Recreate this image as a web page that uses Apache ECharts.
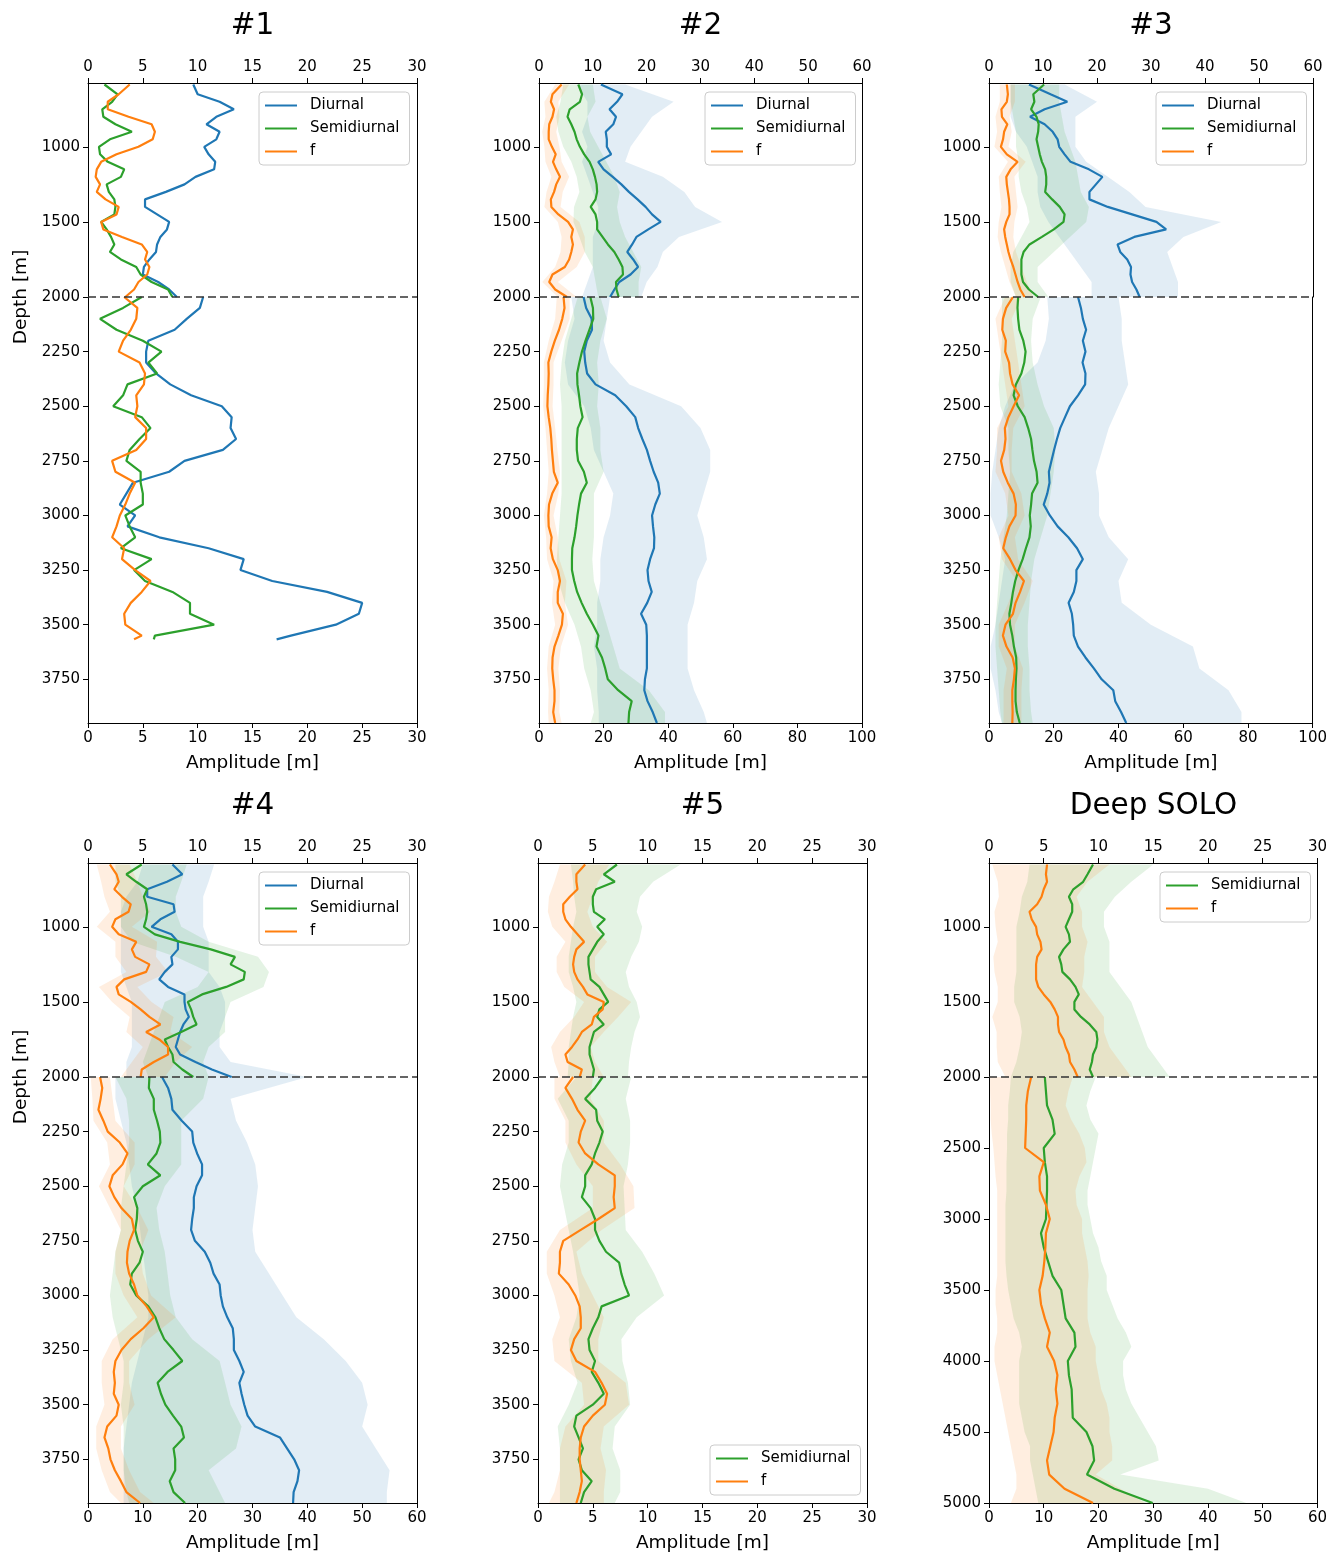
<!DOCTYPE html>
<html><head><meta charset="utf-8">
<script src="https://cdn.jsdelivr.net/npm/echarts@6/dist/echarts.min.js"></script>
<style>html,body{margin:0;padding:0;background:#fff}#chart{width:1330px;height:1554px}</style>
</head><body><div id="chart"></div>
<script>
// ---------- depth grids & tick labels ----------
const depthUp = [585,650,700,750,800,850,900,950,1000,1050,1100,1150,1200,1250,1300,1350,1400,1450,1500,1550,1600,1650,1700,1750,1800,1850,1900,1950,2000];
const bandDepthUp = [585,700,800,900,1000,1100,1200,1300,1400,1500,1600,1700,1800,1900,2000];
const depthLo = [2000,2050,2100,2150,2200,2250,2300,2350,2400,2450,2500,2550,2600,2650,2700,2750,2800,2850,2900,2950,3000,3050,3100,3150,3200,3250,3300,3350,3400,3450,3500,3550,3600,3650,3700,3750,3800,3850,3900,3950];
const depthLoP1 = [2000,2050,2100,2150,2200,2250,2300,2350,2400,2450,2500,2550,2600,2650,2700,2750,2800,2850,2900,2950,3000,3050,3100,3150,3200,3250,3300,3350,3400,3450,3500,3550,3567];
const bandDepthLo = [2000,2100,2200,2300,2400,2500,2600,2700,2800,2900,3000,3100,3200,3300,3400,3500,3600,3700,3800,3900,3950];
const depthDeepLo = [2000,2100,2200,2300,2400,2500,2600,2700,2800,2900,3000,3100,3200,3300,3400,3500,3600,3700,3800,3900,4000,4100,4200,4300,4400,4500,4600,4700,4800,4900,5000];
const yTicksUp = [1000,1500];
const yTicksLo = [2000,2250,2500,2750,3000,3250,3500,3750];
const yTicksDeepLo = [2000,2500,3000,3500,4000,4500,5000];
const titles = ['#1','#2','#3','#4','#5','Deep SOLO'];

// ---------- #1 ----------
const p1UpDiurnal = [9.6,10.0,12.0,13.3,11.7,10.8,12.0,11.7,10.6,11.0,11.6,11.5,9.8,8.8,7.1,5.2,5.2,6.3,7.4,7.2,6.6,6.3,6.2,5.6,5.1,5.0,6.4,7.4,8.1];
const p1UpSemi = [1.5,2.7,2.2,1.3,1.4,2.5,4.0,2.0,1.0,1.1,1.8,3.3,3.0,1.7,1.9,2.4,2.5,2.4,1.2,1.7,2.1,2.4,2.0,3.0,4.4,4.8,5.8,7.3,7.7];
const p1UpF = [3.8,2.8,1.8,1.8,3.7,5.8,6.1,5.9,4.6,2.6,1.2,0.8,0.7,1.1,0.8,1.6,2.8,2.6,1.2,1.4,3.1,4.9,5.4,5.2,5.6,5.4,4.6,4.2,3.4];
const p1LoDiurnal = [10.5,10.2,9.0,7.9,5.5,5.3,5.3,6.2,7.5,9.4,12.2,13.1,13.0,13.5,12.3,8.8,7.4,4.1,3.5,2.9,4.3,3.6,6.5,11.0,14.2,13.9,16.8,21.8,25.0,24.7,22.6,18.5,17.2];
const p1LoSemi = [4.9,3.2,1.1,2.6,5.0,6.7,5.5,6.3,3.6,3.2,2.3,4.9,5.7,4.7,3.8,3.5,4.8,4.8,5.0,5.0,3.4,3.8,4.3,3.0,5.8,4.2,5.2,7.7,9.3,9.3,11.5,6.1,6.0];
const p1LoF = [3.3,4.5,4.4,3.9,3.2,2.8,4.7,5.2,5.1,4.4,4.5,4.3,5.3,5.3,4.4,2.2,2.5,4.3,3.8,3.4,2.9,2.6,2.2,3.3,3.1,4.3,5.7,4.9,3.9,3.3,3.4,4.9,4.2];

// ---------- #2 ----------
const p2UpDiurnal = [11.5,15.5,14.5,13.1,14.3,13.8,12.4,12.6,12.6,13.4,11.0,12.0,13.7,15.3,16.7,18.3,19.8,21.0,22.6,20.3,18.1,17.3,16.4,17.5,18.4,17.0,14.9,14.0,13.2];
const p2UpSemi = [7.3,8.0,7.6,5.7,5.3,6.0,6.6,7.0,7.6,8.4,9.4,10.0,10.4,10.7,10.8,10.5,9.6,10.5,10.8,10.8,11.8,12.8,14.0,14.8,15.5,15.6,14.3,14.4,14.8];
const p2UpF = [4.2,2.5,2.2,2.8,2.5,1.9,1.8,1.8,2.4,3.1,2.6,3.2,3.9,3.2,2.8,2.2,2.3,3.6,5.4,6.3,6.0,6.3,6.0,5.6,4.8,2.5,1.9,3.0,5.2];
const p2UpDiurnalLo = [7,9,9,8,9,8,9,10,11,11,10,10,10,9,8];
const p2UpDiurnalHi = [16,25,21,19,17,16,23,27,29,34,26,23,22,20,19];
const p2UpSemiLo = [4.5,4.0,3.2,3.6,4.5,6.0,7.0,7.5,6.5,6.4,7.5,8.5,10.0,10.5,11.0];
const p2UpSemiHi = [10.0,10.5,9.0,9.5,11.0,12.5,14.0,15.0,14.5,15.0,16.0,17.5,19.0,18.5,18.5];
const p2UpFLo = [3.0,1.0,1.2,0.6,1.0,1.2,2.3,1.4,1.0,3.5,4.2,4.0,3.0,0.6,3.5];
const p2UpFHi = [5.6,3.6,3.8,3.2,3.8,4.2,5.6,4.4,4.0,7.5,8.5,8.5,7.0,3.5,7.0];
const p2LoDiurnal = [13.8,14.6,16.3,16.4,14.8,14.0,14.3,14.9,17.5,23.6,27.0,29.8,30.7,32.0,33.4,34.4,35.5,36.9,37.4,36.0,35.0,35.3,35.7,35.6,34.4,33.6,33.9,34.9,33.5,31.6,33.2,33.4,33.4,33.4,33.4,32.8,32.6,33.6,35.2,36.5];
const p2LoSemi = [15.9,16.7,16.8,15.6,14.4,13.3,12.5,11.8,11.9,12.4,12.8,13.5,12.0,11.7,11.7,12.1,13.9,14.8,13.0,12.4,11.9,11.5,11.0,10.3,10.2,10.2,10.9,11.8,13.2,14.8,16.7,18.4,17.8,19.5,20.5,21.3,24.5,28.7,27.9,27.7];
const p2LoF = [7.6,7.9,7.2,6.2,4.9,3.8,2.9,3.0,2.9,2.7,2.6,3.0,3.5,3.8,4.0,4.3,4.6,5.8,4.1,3.1,2.9,3.0,3.9,3.6,4.3,5.8,6.5,5.8,5.8,7.4,7.1,6.0,4.8,4.2,4.1,4.4,4.8,4.8,4.4,5.0];
const p2LoDiurnalLo = [10,11,9,8,9,14,16,17,20,23,22,20,19,19,18,18,17,18,18,18.5,18.5];
const p2LoDiurnalHi = [22,21,20,22,28,44,50,53,53,51,49,51,52,49,48,46,46,46,48,51,52];
const p2LoSemiLo = [12,10,8,7,6.5,7,7,7,7,7,6.5,6,5.5,6,8,11,13,14,16,17,16];
const p2LoSemiHi = [19,21,19,18,18.5,18,19,19,20,17,17,17,16.5,17,19,21,23,25,34,39,39];
const p2LoFLo = [5.5,5.0,3.0,1.5,1.5,1.3,2.0,2.5,3.0,2.5,1.5,2.2,2.5,4.5,4.0,5.0,3.0,2.5,3.0,2.8,3.0];
const p2LoFHi = [9.5,9.5,7.0,4.5,4.5,4.2,5.0,5.7,6.5,6.0,4.5,5.8,6.3,8.5,8.0,9.0,6.8,6.0,6.5,6.3,7.0];

// ---------- #3 ----------
const p3UpDiurnal = [7.4,11.4,14.5,10.3,7.6,10.3,11.8,12.7,13.0,14.0,15.1,18.5,21.0,19.8,18.6,18.6,22.0,26.5,31.0,32.8,26.9,23.8,24.3,25.6,26.3,26.2,26.5,27.3,27.9];
const p3UpSemi = [10.2,8.2,8.4,7.8,8.8,9.2,9.1,8.8,9.1,9.4,9.8,10.4,10.6,10.6,10.4,11.7,13.1,14.0,13.8,12.0,9.8,7.5,6.4,6.0,6.0,6.0,6.3,7.4,9.1];
const p3UpF = [3.3,3.5,3.3,2.3,2.4,3.4,2.8,2.6,2.2,3.3,5.3,4.0,3.2,3.3,3.5,3.7,3.8,3.8,3.2,2.8,3.0,3.3,3.6,4.0,4.5,4.9,5.3,5.8,6.6];
const p3UpDiurnalLo = [4,4,4,5,7,8,9,9,9.5,11,13,15,17,19,19];
const p3UpDiurnalHi = [14,20,16,16,16,18,22,26,29,43,36,33,34,35,35];
const p3UpSemiLo = [4,4,4.5,5,5,5.5,5.5,6,7,7.5,6,4.5,4,4,5];
const p3UpSemiHi = [13,13,13.5,14,15,16,16.5,17,18.5,18,15,12,9,9,11];
const p3UpFLo = [2.0,2.0,1.2,1.5,1.0,3.5,1.8,2.0,2.3,1.8,1.6,2.2,3.0,3.8,5.0];
const p3UpFHi = [4.8,4.8,3.8,4.2,3.6,6.8,4.7,5.0,5.3,4.7,4.5,5.0,6.0,7.0,8.2];
const p3LoDiurnal = [27.5,28.4,29.0,30.0,29.0,29.8,28.9,29.8,29.7,27.5,25.0,23.5,22.0,21.0,20.1,19.3,18.5,18.7,18.0,16.9,18.8,21.2,24.5,27.2,29.0,27.0,27.0,26.2,24.6,25.6,26.0,26.2,27.5,29.8,32.4,34.8,38.4,39.0,40.8,42.4];
const p3LoSemi = [9.0,8.8,9.0,9.4,10.6,11.3,10.9,10.0,8.3,7.6,8.9,11.0,12.1,13.0,13.4,13.9,14.7,15.0,13.3,13.0,12.6,12.9,12.5,11.4,10.4,9.1,8.1,7.4,6.9,6.3,6.5,7.2,7.7,8.4,8.5,8.3,8.2,8.2,8.6,9.5];
const p3LoF = [7.4,5.3,4.3,4.1,5.2,5.0,6.2,6.5,7.3,9.3,7.6,6.0,4.9,5.1,4.7,3.7,4.4,5.8,7.6,8.3,8.2,6.3,5.2,4.4,6.5,8.2,10.8,9.6,8.2,7.4,5.1,4.3,5.4,7.3,8.0,7.7,7.2,7.2,7.3,7.2];
const p3LoDiurnalLo = [18,18.5,17.5,15,8,5,3,2,1,0.5,0.5,3,5,4,3,2,0.5,0.5,2,3,4];
const p3LoDiurnalHi = [40,41,41,42,43,40,37,35,33,34,34,37,43,40,41,50,63,65,74,78,78];
const p3LoSemiLo = [4,4,4,3.5,3,3.5,6,6,6.5,6,5.5,4.5,3.5,3,2.5,2,2,2.5,3,3.5,4];
const p3LoSemiHi = [16,13.5,13,13.5,15,17,20,20.5,20,19,18,16,14,13,12.5,12,12,12.5,12.5,13,13.5];
const p3LoFLo = [5,2,3,4,5,6,2.5,2.5,2,5,6,3,4,8.5,6,3,3,5.5,4.5,4.5,4.5];
const p3LoFHi = [10,7,8,9,10,11,7.5,7,7,10,11,8,9,13.5,11,8,8,10.5,10,10,10];

// ---------- #4 ----------
const p4UpDiurnal = [7.7,8.6,7.2,5.4,5.4,7.8,7.9,6.6,5.8,7.6,8.2,8.2,7.6,7.7,7.0,6.5,7.3,8.8,8.8,8.9,9.2,8.7,8.4,8.2,8.0,8.4,9.8,11.3,13.1];
const p4UpSemi = [4.9,3.5,4.4,5.4,5.1,5.3,5.4,5.3,5.1,6.1,8.4,11.2,13.4,13.0,14.3,14.2,12.6,10.4,9.1,9.4,9.6,9.9,8.5,7.0,7.3,7.7,7.8,8.6,9.6];
const p4UpF = [2.0,2.6,2.8,2.4,3.1,3.9,3.7,2.5,2.2,2.8,4.4,4.0,4.3,5.6,5.3,3.3,2.6,2.8,3.9,4.8,5.6,6.6,5.3,6.5,7.3,7.3,6.0,4.9,4.8];
const p4UpDiurnalLo = [5,4.5,3.5,3,3,3,3,3,3.5,4,4,4,4,3.5,3.5];
const p4UpDiurnalHi = [11.5,11,10.5,10.5,10.5,11,11,11,12,12.5,12.5,12,12,13,20];
const p4UpSemiLo = [2.5,2.5,3,3,3,4,8,11,10,7,6.5,6,5.5,5,5.5];
const p4UpSemiHi = [9,8.5,8,8,8.5,11,15.5,16.5,16,13,12.5,12.5,11,10.5,11];
const p4UpFLo = [0.8,1.2,1.5,2.0,0.8,2.5,2.5,3.5,1.0,2.2,3.8,3.5,5.0,4.0,3.0];
const p4UpFHi = [3.8,4.5,5.0,5.7,4.0,6.3,6.2,7.3,4.5,5.8,7.8,7.5,9.5,8.0,7.0];
const p4LoDiurnal = [13.5,14.6,15.2,15.4,17.1,19.0,19.2,19.9,20.8,20.8,19.8,19.3,19.3,19.0,18.8,19.5,21.3,22.3,22.9,24.0,24.2,24.6,25.4,26.4,26.6,26.6,27.6,28.4,27.6,28.0,28.5,29.1,30.5,35.0,36.3,37.6,38.5,38.2,37.5,37.4];
const p4LoSemi = [11.2,11.1,12.0,12.0,12.6,13.1,13.2,12.5,10.9,13.2,10.0,8.4,9.0,8.9,8.6,9.1,10.0,9.4,8.0,7.7,8.8,11.0,12.3,13.0,13.9,15.6,17.2,14.5,12.7,13.3,14.1,15.5,17.0,17.5,15.6,15.9,15.9,14.9,15.6,17.7];
const p4LoF = [2.2,2.6,2.3,1.9,2.8,3.6,5.8,7.2,6.3,4.5,3.9,4.8,6.1,8.0,8.4,7.6,7.2,7.1,7.5,8.4,9.0,10.7,12.0,10.1,7.8,6.1,5.0,4.7,4.9,4.7,5.6,5.2,3.5,3.0,3.7,4.1,4.9,6.0,7.0,9.5];
const p4LoDiurnalLo = [5,5,6,7,7.5,8,9,9.5,10,10.5,11,11,10,9,8,7.5,7,6.5,6.5,6.5,6.5];
const p4LoDiurnalHi = [40,26,27,29,30.5,31,30.5,30,30.5,33,35.5,38,43,47,50,51,50,52.5,55,54.5,54.5];
const p4LoSemiLo = [5,7,7.5,7.5,7,6.5,6,6,5,4.5,4,4.5,5.5,6.5,6.5,6,6.5,6.5,6.5,7,7.5];
const p4LoSemiHi = [22,21,17,17,17,14,12.5,13,14,14.5,15,16,19,24,25,26,28,27,22,24,25];
const p4LoFLo = [0.5,0.8,1.0,3.5,4.0,2.0,4.0,6.0,5.0,5.0,6.5,9.0,4.5,2.5,2.5,3.0,1.5,1.5,2.5,4.0,6.0];
const p4LoFHi = [4.0,4.5,5.0,8.5,8.5,6.5,9.0,11.0,9.5,10.0,11.5,16.0,11.0,7.5,7.5,8.5,6.0,6.0,7.5,9.5,12.0];

// ---------- #5 ----------
const p5UpSemi = [7.2,6.0,7.0,5.3,5.0,5.0,5.1,6.1,5.4,6.0,5.4,5.0,4.6,4.6,4.7,4.8,5.6,6.0,6.4,5.6,5.4,6.0,5.1,4.9,4.7,4.7,4.9,5.1,5.0];
const p5UpF = [4.3,3.5,3.5,3.6,2.9,2.3,2.3,2.5,3.0,3.6,4.2,3.5,3.3,3.2,3.3,3.6,4.1,4.5,6.0,5.9,5.1,4.9,4.0,3.6,3.1,2.5,2.7,4.0,3.8];
const p5UpSemiLo = [3.0,3.2,3.3,3.5,3.2,3.0,2.8,2.8,3.2,3.5,3.2,3.0,2.8,2.8,2.7];
const p5UpSemiHi = [13,10.5,9.3,9.0,9.5,9.2,8.5,8.0,8.3,9.0,9.3,8.8,8.5,8.3,8.2];
const p5UpFLo = [2.0,1.5,1.0,0.9,1.3,2.5,1.7,1.7,2.4,4.2,3.3,2.0,1.2,1.5,2.0];
const p5UpFHi = [6.5,5.5,5.0,4.5,5.0,6.3,5.2,5.2,6.3,8.5,7.3,6.0,4.8,5.2,6.0];
const p5LoSemi = [5.9,5.2,4.3,5.3,5.4,5.9,5.6,5.2,4.9,4.3,4.3,4.0,4.8,5.2,5.2,5.6,6.2,7.4,7.6,7.9,8.3,5.8,5.5,5.0,4.6,4.7,5.2,4.9,5.5,6.0,5.0,3.5,3.3,3.7,4.1,3.7,4.0,4.9,4.2,3.9];
const p5LoF = [3.2,2.5,3.1,3.6,4.3,3.9,3.7,4.3,5.5,7.0,7.0,6.9,7.0,5.5,3.9,2.3,2.0,2.0,1.9,2.8,3.4,3.8,3.9,3.9,3.3,3.0,3.5,5.2,5.8,6.3,6.1,5.0,4.2,3.9,3.8,3.8,3.9,4.0,3.8,3.5];
const p5LoSemiLo = [3.5,1.8,2.8,2.8,2.2,2.0,2.4,2.8,3.2,3.5,3.8,3.5,2.8,3.0,3.6,2.8,1.8,2.0,2.0,2.0,2.0];
const p5LoSemiHi = [8.5,8.0,8.4,8.4,8.2,7.8,7.9,8.0,9.5,10.6,11.5,9.0,7.6,7.7,8.2,8.4,7.0,6.8,7.5,7.5,7.0];
const p5LoFLo = [1.5,1.5,2.5,2.5,3.5,5.0,5.0,2.0,0.8,0.8,1.5,2.0,1.3,1.5,4.0,4.2,2.5,2.0,2.0,1.5,1.0];
const p5LoFHi = [5.0,4.8,6.0,6.0,7.5,8.7,8.8,5.8,3.5,4.0,5.0,6.0,5.5,5.5,8.0,8.3,6.0,5.7,6.2,6.0,6.0];

// ---------- Deep SOLO ----------
const p6UpSemi = [9.5,9.0,8.6,7.7,7.3,7.6,7.6,7.3,7.0,7.3,7.4,6.8,6.4,6.6,6.7,7.4,7.9,8.2,7.8,7.8,8.4,9.2,9.8,9.9,9.8,9.5,9.4,9.2,9.5];
const p6UpF = [5.3,5.2,5.3,5.0,4.8,4.4,3.7,3.9,4.3,4.4,4.7,4.8,4.4,4.3,4.3,4.3,4.5,5.0,5.6,6.0,6.3,6.3,6.4,6.8,7.0,7.3,7.4,7.8,8.1];
const p6UpSemiLo = [3.7,3.5,3.0,2.8,2.5,2.5,2.5,2.5,2.3,2.3,2.8,3.0,2.8,2.5,2.0];
const p6UpSemiHi = [15,13,11.5,10.5,10.5,11,11,11,12,13,13.5,14,14.5,15.5,16.5];
const p6UpFLo = [0.3,0.8,0.9,0.5,0.6,0.8,0.4,0.5,0.8,0.8,0.3,0.7,0.7,0.8,1.5];
const p6UpFHi = [11,9,8,8.5,8.5,9,8.7,8.7,8.5,9.5,10.5,10.5,11,12,13];
const p6LoSemi = [10.2,10.4,10.6,11.6,12.0,10.0,10.2,10.6,10.6,10.5,10.4,9.5,10.0,10.8,11.6,13.2,13.6,14.0,15.6,15.8,14.4,14.6,15.1,15.2,15.3,17.8,18.9,19.2,17.9,22.9,29.9];
const p6LoF = [7.7,7.1,6.8,6.8,6.7,6.6,10.0,9.2,9.3,10.4,11.1,10.4,10.3,10.1,9.8,9.2,9.5,10.2,11.1,10.6,11.9,12.5,12.2,12.5,12.0,11.8,11.2,10.6,11.0,13.8,19.0];
const p6LoSemiLo = [4,3.8,3.5,3.5,3.3,3.3,3.2,3.2,3.2,3.0,3.0,3.0,3.0,3.0,3.2,3.5,4.0,4.5,5.5,6,5.5,5.5,5.5,5.5,6,6.5,7.5,7.5,8,8.5,9];
const p6LoSemiHi = [19.5,18.5,17.8,18.5,20,19.5,19,18.5,18,18,18.5,19,20,20.5,21.5,21.5,22.5,23.5,25,26,24.5,24.5,25,26,27.5,29,30.5,31,24,40,47];
const p6LoFLo = [0.2,0.2,0.3,0.3,0.5,0.8,1.0,1.2,1.5,1.5,1.5,1.5,1.5,1.5,1.5,1.2,1.2,1.5,1.5,1.0,1.0,1.5,2.0,2.5,3.0,3.5,4.0,4.5,5.0,5.0,4.0];
const p6LoFHi = [15.3,14.5,14,15,16.5,17.5,17.8,16.5,15.8,16,17,17,17.5,18,18.2,18,18,18,18.5,19.5,19.5,20,20.5,21.5,22,22,22.5,22.5,19.5,24,28.5];

// ---------- build ----------
const FONT = 'DejaVu Sans';
const COL = {Diurnal:'#1f77b4', Semidiurnal:'#2ca02c', f:'#ff7f0e'};
function S(name, depth, vals, bd, lo, hi){ return {name, depth, vals, bd, lo, hi}; }

const panels = [
 {left:88, width:329, top:83, xUp:[30,5], xLo:[30,5], loMax:3950, loTicks:yTicksLo, depthLabel:true,
  legend:{left:259, top:92, items:['Diurnal','Semidiurnal','f']},
  up:[S('Diurnal',depthUp,p1UpDiurnal),S('Semidiurnal',depthUp,p1UpSemi),S('f',depthUp,p1UpF)],
  lo:[S('Diurnal',depthLoP1,p1LoDiurnal),S('Semidiurnal',depthLoP1,p1LoSemi),S('f',depthLoP1,p1LoF)]},
 {left:539, width:323, top:83, xUp:[60,10], xLo:[100,20], loMax:3950, loTicks:yTicksLo,
  legend:{left:705, top:92, items:['Diurnal','Semidiurnal','f']},
  up:[S('Diurnal',depthUp,p2UpDiurnal,bandDepthUp,p2UpDiurnalLo,p2UpDiurnalHi),S('Semidiurnal',depthUp,p2UpSemi,bandDepthUp,p2UpSemiLo,p2UpSemiHi),S('f',depthUp,p2UpF,bandDepthUp,p2UpFLo,p2UpFHi)],
  lo:[S('Diurnal',depthLo,p2LoDiurnal,bandDepthLo,p2LoDiurnalLo,p2LoDiurnalHi),S('Semidiurnal',depthLo,p2LoSemi,bandDepthLo,p2LoSemiLo,p2LoSemiHi),S('f',depthLo,p2LoF,bandDepthLo,p2LoFLo,p2LoFHi)]},
 {left:989, width:324, top:83, xUp:[60,10], xLo:[100,20], loMax:3950, loTicks:yTicksLo,
  legend:{left:1156, top:92, items:['Diurnal','Semidiurnal','f']},
  up:[S('Diurnal',depthUp,p3UpDiurnal,bandDepthUp,p3UpDiurnalLo,p3UpDiurnalHi),S('Semidiurnal',depthUp,p3UpSemi,bandDepthUp,p3UpSemiLo,p3UpSemiHi),S('f',depthUp,p3UpF,bandDepthUp,p3UpFLo,p3UpFHi)],
  lo:[S('Diurnal',depthLo,p3LoDiurnal,bandDepthLo,p3LoDiurnalLo,p3LoDiurnalHi),S('Semidiurnal',depthLo,p3LoSemi,bandDepthLo,p3LoSemiLo,p3LoSemiHi),S('f',depthLo,p3LoF,bandDepthLo,p3LoFLo,p3LoFHi)]},
 {left:88, width:329, top:863, xUp:[30,5], xLo:[60,10], loMax:3950, loTicks:yTicksLo, depthLabel:true,
  legend:{left:259, top:872, items:['Diurnal','Semidiurnal','f']},
  up:[S('Diurnal',depthUp,p4UpDiurnal,bandDepthUp,p4UpDiurnalLo,p4UpDiurnalHi),S('Semidiurnal',depthUp,p4UpSemi,bandDepthUp,p4UpSemiLo,p4UpSemiHi),S('f',depthUp,p4UpF,bandDepthUp,p4UpFLo,p4UpFHi)],
  lo:[S('Diurnal',depthLo,p4LoDiurnal,bandDepthLo,p4LoDiurnalLo,p4LoDiurnalHi),S('Semidiurnal',depthLo,p4LoSemi,bandDepthLo,p4LoSemiLo,p4LoSemiHi),S('f',depthLo,p4LoF,bandDepthLo,p4LoFLo,p4LoFHi)]},
 {left:538, width:329, top:863, xUp:[30,5], xLo:[30,5], loMax:3950, loTicks:yTicksLo,
  legend:{left:710, top:1445, items:['Semidiurnal','f']},
  up:[S('Semidiurnal',depthUp,p5UpSemi,bandDepthUp,p5UpSemiLo,p5UpSemiHi),S('f',depthUp,p5UpF,bandDepthUp,p5UpFLo,p5UpFHi)],
  lo:[S('Semidiurnal',depthLo,p5LoSemi,bandDepthLo,p5LoSemiLo,p5LoSemiHi),S('f',depthLo,p5LoF,bandDepthLo,p5LoFLo,p5LoFHi)]},
 {left:989, width:329, top:863, xUp:[30,5], xLo:[60,10], loMax:5000, loTicks:yTicksDeepLo,
  legend:{left:1160, top:872, items:['Semidiurnal','f']},
  up:[S('Semidiurnal',depthUp,p6UpSemi,bandDepthUp,p6UpSemiLo,p6UpSemiHi),S('f',depthUp,p6UpF,bandDepthUp,p6UpFLo,p6UpFHi)],
  lo:[S('Semidiurnal',depthDeepLo,p6LoSemi,depthDeepLo,p6LoSemiLo,p6LoSemiHi),S('f',depthDeepLo,p6LoF,depthDeepLo,p6LoFLo,p6LoFHi)]}
];

const grids=[], xAxes=[], yAxes=[], series=[], legends=[], graphics=[];
const spine = {show:true, onZero:false, lineStyle:{color:'#000', width:1}};
const lab = {fontSize:15, fontFamily:FONT, color:'#000', margin:8};

panels.forEach((p, pi) => {
  graphics.push({type:'text', x:p.left + p.width/2, y:p.top - 57, silent:true,
    style:{text:titles[pi], font:'29.5px "DejaVu Sans"', fill:'#000', align:'center', verticalAlign:'middle'}});
  if (p.depthLabel) graphics.push({type:'text', x:21, y:p.top + 214, rotation:Math.PI/2, silent:true,
    style:{text:'Depth [m]', font:'18.5px "DejaVu Sans"', fill:'#000', align:'center', verticalAlign:'middle'}});
  legends.push({left:p.legend.left, top:p.legend.top, orient:'vertical', selectedMode:false,
    data:p.legend.items, icon:'rect', itemWidth:32, itemHeight:2, itemGap:8, padding:[6,10,6,6],
    backgroundColor:'rgba(255,255,255,0.85)', borderColor:'#cccccc', borderWidth:1, borderRadius:4,
    textStyle:{fontSize:15, fontFamily:FONT, color:'#000', padding:[0,0,0,8]}});
  [0,1].forEach(si => {
    const gi = grids.length;
    grids.push({left:p.left, width:p.width, top: si ? p.top+214 : p.top, height: si ? 426 : 214});
    const xa = si ? p.xLo : p.xUp;
    xAxes.push({type:'value', gridIndex:gi, position: si ? 'bottom':'top', min:0, max:xa[0], interval:xa[1],
      axisLine:spine, axisTick:{show:true, length:5, lineStyle:{color:'#000'}}, axisLabel:lab, splitLine:{show:false},
      name: si ? 'Amplitude [m]' : '', nameLocation:'middle', nameGap:31,
      nameTextStyle:{fontSize:18.5, fontFamily:FONT, color:'#000'}});
    const ymin = si ? 2000 : 575, ymax = si ? p.loMax : 2000, ticks = si ? p.loTicks : yTicksUp;
    const yi = yAxes.length;
    yAxes.push({type:'value', gridIndex:gi, position:'left', inverse:true, min:ymin, max:ymax,
      axisLine:spine, axisTick:{show:true, length:5, customValues:ticks, lineStyle:{color:'#000'}},
      axisLabel:Object.assign({customValues:ticks, formatter:v=>String(v)}, lab), splitLine:{show:false}});
    yAxes.push({type:'value', gridIndex:gi, position:'right', inverse:true, min:ymin, max:ymax,
      axisLine:spine, axisTick:{show:false}, axisLabel:{show:false}, splitLine:{show:false}});
    const list = si ? p.lo : p.up;
    list.forEach(s => {
      if (!s.bd) return;
      const bd = s.bd, lo = s.lo, hi = s.hi, color = COL[s.name];
      series.push({type:'custom', xAxisIndex:gi, yAxisIndex:yi, silent:true, z:1,
        data:[[lo[0], bd[0]]],
        renderItem:(params, api) => {
          const pts = [];
          for (let i=0;i<bd.length;i++) pts.push(api.coord([lo[i], bd[i]]));
          for (let i=bd.length-1;i>=0;i--) pts.push(api.coord([hi[i], bd[i]]));
          return {type:'polygon', shape:{points:pts}, style:{fill:color, opacity:0.13}};
        }});
    });
    list.forEach((s, k) => {
      const ser = {type:'line', name:s.name, xAxisIndex:gi, yAxisIndex:yi, z:3,
        data: s.depth.map((d,i)=>[s.vals[i], d]), symbol:'none', showSymbol:false,
        lineStyle:{color:COL[s.name], width:2.2}, itemStyle:{color:COL[s.name]}};
      if (si === 1 && k === 0) ser.markLine = {silent:true, symbol:['none','none'], label:{show:false},
        lineStyle:{color:'#333', type:[8,4], width:1.5}, data:[{yAxis:2000}]};
      series.push(ser);
    });
  });
});

const chart = echarts.init(document.getElementById('chart'), null, {renderer:'canvas'});
chart.setOption({animation:false, backgroundColor:'#fff', textStyle:{fontFamily:FONT},
  grid:grids, xAxis:xAxes, yAxis:yAxes, series, legend:legends, graphic:graphics});
</script></body></html>
